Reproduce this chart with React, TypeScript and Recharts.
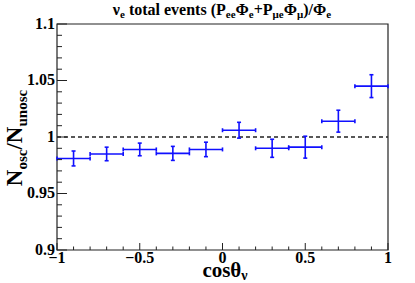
import React from 'react';
import { ComposedChart, Scatter, ErrorBar, XAxis, YAxis, ReferenceLine, ReferenceArea, Label } from 'recharts';

// bin centres in cos(theta_nu), half bin widths, ratio and its error
const cosTheta = [-0.9, -0.7, -0.5, -0.3, -0.1, 0.1, 0.3, 0.5, 0.7, 0.9];
const binHalfWidth = [0.1, 0.1, 0.1, 0.1, 0.1, 0.1, 0.1, 0.1, 0.1, 0.1];
const ratio = [0.981, 0.985, 0.989, 0.9855, 0.989, 1.006, 0.99, 0.991, 1.014, 1.045];
const ratioErr = [0.0066, 0.006, 0.0056, 0.0062, 0.0064, 0.007, 0.008, 0.0097, 0.0097, 0.0101];

const xMajorTicks = [-1, -0.5, 0, 0.5, 1];
const xMajorLabels = ['\u22121', '\u22120.5', '0', '0.5', '1'];
const xMinorTicks = [-0.9, -0.8, -0.7, -0.6, -0.4, -0.3, -0.2, -0.1, 0.1, 0.2, 0.3, 0.4, 0.6, 0.7, 0.8, 0.9];
const yMajorTicks = [0.9, 0.95, 1, 1.05, 1.1];
const yMajorLabels = ['0.9', '0.95', '1', '1.05', '1.1'];
const yMinorTicks = [0.91, 0.92, 0.93, 0.94, 0.96, 0.97, 0.98, 0.99, 1.01, 1.02, 1.03, 1.04, 1.06, 1.07, 1.08, 1.09];

const data = cosTheta.map((x, i) => ({ x, y: ratio[i], xErr: binHalfWidth[i], yErr: ratioErr[i] }));

const FONT = '"Liberation Serif", "Times New Roman", "DejaVu Serif", serif';
const txt = { fontFamily: FONT, fontWeight: 700 };
const AXIS = '#222';
const BLUE = '#1010ff';

const majorIndex = (list: number[], v: number) => list.findIndex(t => Math.abs(t - v) < 1e-9);

const XTick = (props: any) => {
  const { x, y, payload } = props;
  const i = majorIndex(xMajorTicks, payload.value);
  const len = i >= 0 ? 7 : 3.5;
  return (
    <g>
      <line x1={x} x2={x} y1={y} y2={y - len} stroke={AXIS} strokeWidth={1} />
      {i >= 0 && (
        <text x={x} y={y + 13} textAnchor="middle" style={txt} fontSize={16} fill="#000">
          {xMajorLabels[i]}
        </text>
      )}
    </g>
  );
};

const YTick = (props: any) => {
  const { x, y, payload } = props;
  const i = majorIndex(yMajorTicks, payload.value);
  const len = i >= 0 ? 10 : 5;
  return (
    <g>
      <line x1={x} x2={x + len} y1={y} y2={y} stroke={AXIS} strokeWidth={1} />
      {i >= 0 && (
        <text x={x - 2} y={y - 1} dy="0.35em" textAnchor="end" style={txt} fontSize={16} fill="#000">
          {yMajorLabels[i]}
        </text>
      )}
    </g>
  );
};

const YTitle = () => (
  <text x={22} y={138} transform="rotate(-90, 22, 138)" textAnchor="middle" style={txt} fontSize={23} fill="#000">
    N<tspan fontSize={15} dy={5}>osc</tspan>
    <tspan dy={-5}>/N</tspan>
    <tspan fontSize={15} dy={5}>unosc</tspan>
  </text>
);

const XTitle = () => (
  <text x={225} y={277} textAnchor="middle" style={txt} fontSize={21} fill="#000">
    cos&#952;<tspan fontSize={14} dy={3}>&#957;</tspan>
  </text>
);

const sub = { fontSize: 11 };

const App: React.FC = () => (
  <div style={{ position: 'relative', width: 415, height: 283, background: '#fff' }}>
    <style>{'body{margin:0}'}</style>
    <svg width={415} height={24} style={{ position: 'absolute', left: 0, top: 0 }}>
      <text x={222} y={15} textAnchor="middle" style={txt} fontSize={16} fill="#000">
        &#957;<tspan {...sub} dy={3}>e</tspan>
        <tspan dy={-3}> total events (P</tspan>
        <tspan {...sub} dy={3}>ee</tspan>
        <tspan dy={-3}>&#934;</tspan>
        <tspan {...sub} dy={3}>e</tspan>
        <tspan dy={-3}>+P</tspan>
        <tspan {...sub} dy={3}>&#956;e</tspan>
        <tspan dy={-3}>&#934;</tspan>
        <tspan {...sub} dy={3}>&#956;</tspan>
        <tspan dy={-3}>)/&#934;</tspan>
        <tspan {...sub} dy={3}>e</tspan>
      </text>
    </svg>
    <ComposedChart width={415} height={283} data={data} margin={{ top: 24, right: 27, bottom: 0, left: 0 }}>
      <XAxis
        type="number"
        dataKey="x"
        domain={[-1, 1]}
        ticks={[...xMajorTicks, ...xMinorTicks].sort((a, b) => a - b)}
        interval={0}
        tick={<XTick />}
        tickLine={false}
        axisLine={false}
        tickSize={0}
        tickMargin={0}
        height={33}
        allowDataOverflow
      >
        <Label content={<XTitle />} />
      </XAxis>
      <YAxis
        type="number"
        dataKey="y"
        domain={[0.9, 1.1]}
        ticks={[...yMajorTicks, ...yMinorTicks].sort((a, b) => a - b)}
        interval={0}
        tick={<YTick />}
        tickLine={false}
        axisLine={false}
        tickSize={0}
        tickMargin={0}
        width={57}
        allowDataOverflow
      >
        <Label content={<YTitle />} />
      </YAxis>
      <ReferenceLine y={1} stroke="#222" strokeWidth={1.6} strokeDasharray="4 3" />
      <Scatter dataKey="y" isAnimationActive={false} shape={() => <g />}>
        <ErrorBar dataKey="xErr" direction="x" stroke={BLUE} strokeWidth={1.6} width={2} />
        <ErrorBar dataKey="yErr" direction="y" stroke={BLUE} strokeWidth={1.6} width={2} />
      </Scatter>
      <ReferenceArea x1={-1} x2={1} y1={0.9} y2={1.1} fill="none" fillOpacity={0} stroke={AXIS} strokeWidth={1.2} />
    </ComposedChart>
  </div>
);

export default App;
